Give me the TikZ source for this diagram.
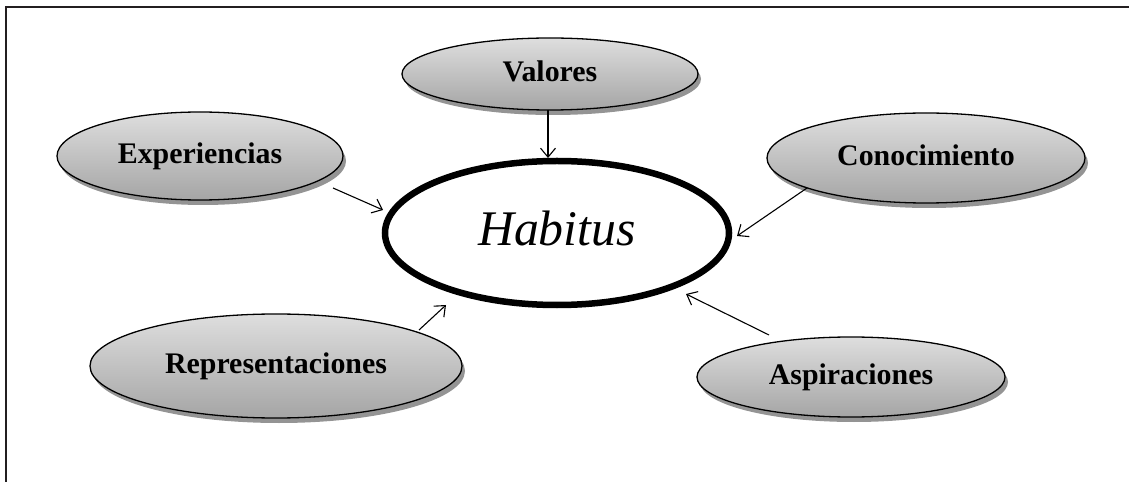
\documentclass[tikz,border=0pt]{standalone}
\usepackage{fontspec}
\setmainfont{Liberation Serif}
\usetikzlibrary{shapes.geometric,shadows,arrows.meta}
\definecolor{frame}{RGB}{35,31,32}
\definecolor{topg}{RGB}{222,222,222}
\definecolor{botg}{RGB}{165,165,165}
\tikzset{
  bubble/.style={ellipse, draw=black, line width=1.3bp, inner sep=0pt,
    top color=topg, bottom color=botg,
    drop shadow={shadow xshift=3bp, shadow yshift=-5bp, fill=black!42, opacity=1},
    font=\bfseries\fontsize{30}{36}\selectfont},
  centre/.style={ellipse, draw=black, line width=6.5bp, fill=white, inner sep=0pt,
    font=\itshape\fontsize{50}{60}\selectfont},
  link/.style={line width=1.1bp, -{Straight Barb[length=9bp,width=15bp,line width=1.1bp]}}
}
\begin{document}
\begin{tikzpicture}[x=1bp,y=-1bp]
\useasboundingbox (0,0) rectangle (1129,482);
\draw[frame, line width=2.6bp] (6,482) -- (6,7) -- (1129,7);

\node[centre, minimum width=344bp, minimum height=144bp] (hab) at (557,233) {\raisebox{10bp}{Habitus}};

\node[bubble, minimum width=296bp, minimum height=72bp] (val) at (550,74) {\raisebox{5bp}{Valores}};
\node[bubble, minimum width=286bp, minimum height=88bp] (exp) at (200,156) {\raisebox{6bp}{Experiencias}};
\node[bubble, minimum width=318bp, minimum height=90bp] (con) at (926,158) {\raisebox{6bp}{Conocimiento}};
\node[bubble, minimum width=372bp, minimum height=104bp] (rep) at (276,366) {\raisebox{6bp}{Representaciones}};
\node[bubble, minimum width=308bp, minimum height=80bp] (asp) at (851,377) {\raisebox{5bp}{Aspiraciones}};

\draw[link] ([shift={(-2,36)}]val.center) -- ([shift={(-9,-75)}]hab.center);
\draw[link] ([shift={(133,32)}]exp.center) -- ([shift={(-174,-23)}]hab.center);
\draw[link] ([shift={(-119,30)}]con.center) -- ([shift={(180,3)}]hab.center);
\draw[link] ([shift={(143,-36)}]rep.center) -- ([shift={(-111,72)}]hab.center);
\draw[link] ([shift={(-82,-42)}]asp.center) -- ([shift={(129,61)}]hab.center);
\end{tikzpicture}
\end{document}
